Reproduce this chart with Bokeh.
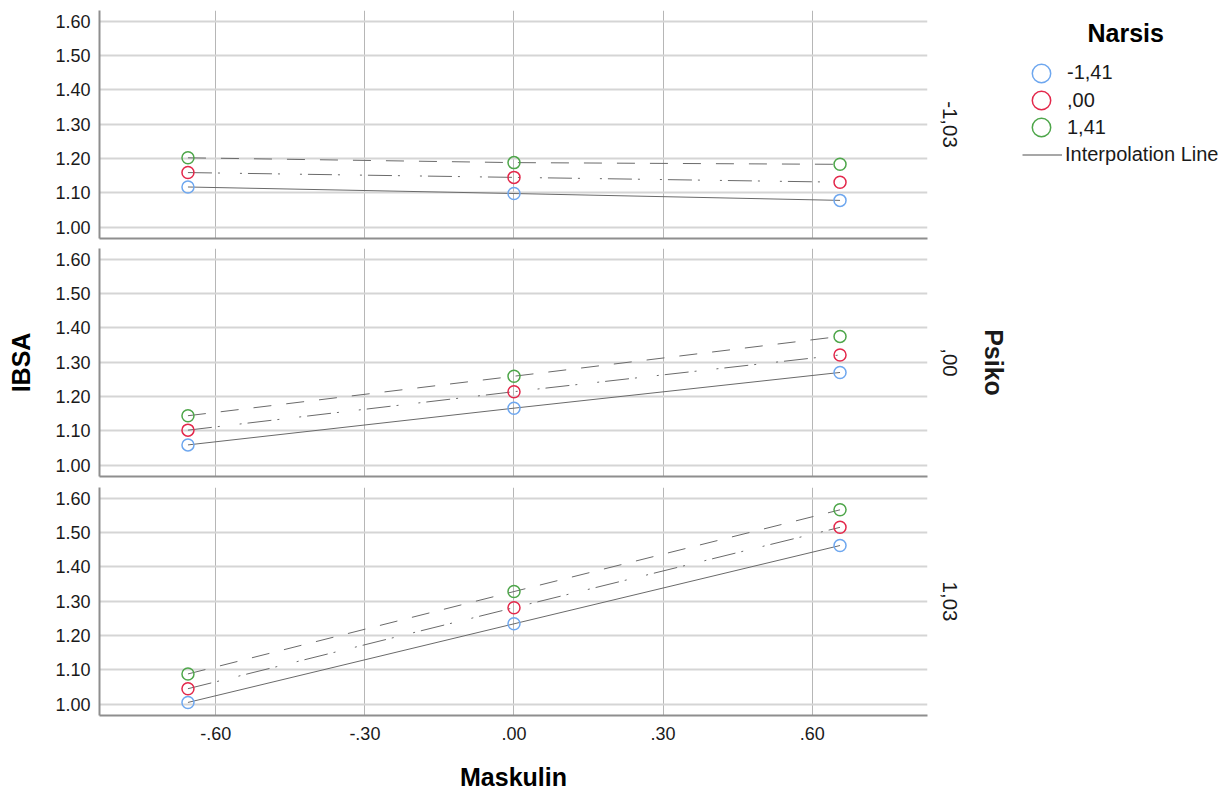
from bokeh.plotting import figure
from bokeh.models import (Range1d, LinearAxis, FixedTicker, PrintfTickFormatter,
                          Legend, LegendItem)
from bokeh.layouts import column, row
from bokeh.embed import file_html
from bokeh.resources import INLINE

# ---------------- data ----------------
maskulin = [-0.656, 0.0, 0.656]
narsis_labels = ["-1,41", ",00", "1,41"]
psiko_labels = ["-1,03", ",00", "1,03"]

x_ticks = [-0.6, -0.3, 0.0, 0.3, 0.6]
x_tick_labels = ["-.60", "-.30", ".00", ".30", ".60"]
y_ticks = [1.0, 1.1, 1.2, 1.3, 1.4, 1.5, 1.6]

# Psiko = -1,03
top_blue = [1.117, 1.098, 1.078]
top_red = [1.159, 1.145, 1.131]
top_green = [1.202, 1.188, 1.183]
# Psiko = ,00
mid_blue = [1.059, 1.166, 1.270]
mid_red = [1.102, 1.214, 1.321]
mid_green = [1.144, 1.259, 1.375]
# Psiko = 1,03
bot_blue = [1.005, 1.234, 1.462]
bot_red = [1.045, 1.281, 1.515]
bot_green = [1.088, 1.328, 1.566]

# ---------------- styles ----------------
FONT = "Liberation Sans"
COLORS = ["#6ea7ef", "#e3284b", "#4ea64a"]
DASHES = ["solid", "24 6 2 20 2 6", "18 15"]
LINE_COLOR = "#6a6a6a"
AXIS_COLOR = "#8e8e8e"
TEXT_COLOR = "#1a1a1a"

FRAME_W, FRAME_H = 828, 228
X_RANGE = (-0.834, 0.832)
Y_RANGE = (0.967, 1.631)


def make_panel(series, psiko_label, top_b, bottom_b, bottom_labels=False, ylabel=None,
               title=None):
    p = figure(frame_width=FRAME_W, frame_height=FRAME_H,
               x_range=Range1d(*X_RANGE), y_range=Range1d(*Y_RANGE),
               output_backend="svg", toolbar_location=None,
               min_border_left=99, min_border_right=87,
               min_border_top=top_b, min_border_bottom=bottom_b)
    p.outline_line_color = None
    p.background_fill_color = "white"
    p.border_fill_color = "white"

    # grids
    p.ygrid.ticker = FixedTicker(ticks=y_ticks)
    p.xgrid.ticker = FixedTicker(ticks=x_ticks)
    p.ygrid.grid_line_color = "#d5d5d5"
    p.ygrid.grid_line_width = 2
    p.xgrid.grid_line_color = "#b6b6b6"
    p.xgrid.grid_line_width = 1

    # left axis
    ya = p.yaxis[0]
    ya.ticker = FixedTicker(ticks=y_ticks)
    ya.formatter = PrintfTickFormatter(format="%.2f")
    ya.major_label_text_font = FONT
    ya.major_label_text_font_size = "18px"
    ya.major_label_text_color = TEXT_COLOR
    ya.major_label_standoff = 9
    ya.major_tick_out = 0
    ya.major_tick_in = 0
    ya.minor_tick_line_color = None
    ya.axis_line_color = AXIS_COLOR
    ya.axis_line_width = 2
    if ylabel:
        ya.axis_label = ylabel
        ya.axis_label_text_font = FONT
        ya.axis_label_text_font_size = "25px"
        ya.axis_label_text_font_style = "bold"
        ya.axis_label_text_color = "#000000"
        ya.axis_label_standoff = 17

    # bottom axis
    xa = p.xaxis[0]
    xa.axis_line_color = AXIS_COLOR
    xa.axis_line_width = 2
    xa.major_tick_out = 0
    xa.major_tick_in = 0
    xa.minor_tick_line_color = None
    if bottom_labels:
        xa.ticker = FixedTicker(ticks=x_ticks)
        xa.major_label_overrides = {t: l for t, l in zip(x_ticks, x_tick_labels)}
        xa.major_label_text_font = FONT
        xa.major_label_text_font_size = "18px"
        xa.major_label_text_color = TEXT_COLOR
        xa.major_label_standoff = 11
        xa.axis_label = "Maskulin"
        xa.axis_label_text_font = FONT
        xa.axis_label_text_font_size = "25px"
        xa.axis_label_text_font_style = "bold"
        xa.axis_label_text_color = "#000000"
        xa.axis_label_standoff = 20
    else:
        xa.ticker = FixedTicker(ticks=[])
        xa.major_label_standoff = 0

    # right-side panel label(s)
    def right_label(text, size, style, standoff):
        ax = LinearAxis(ticker=FixedTicker(ticks=[]), axis_label=text,
                        axis_line_color=None, major_tick_out=0, major_tick_in=0,
                        minor_tick_line_color=None, major_label_standoff=0,
                        axis_label_standoff=standoff,
                        axis_label_text_font=FONT, axis_label_text_font_size=size,
                        axis_label_text_font_style=style, axis_label_text_color=TEXT_COLOR)
        p.add_layout(ax, "right")

    right_label(psiko_label, "20.5px", "normal", 15)
    if title:
        right_label(title, "25px", "bold", 20)

    line_rs, dot_rs = [], []
    for ys, dash in zip(series, DASHES):
        lr = p.line(maskulin, ys, line_color=LINE_COLOR, line_width=1, line_dash=dash)
        line_rs.append(lr)
    for ys, col in zip(series, COLORS):
        sr = p.scatter(maskulin, ys, marker="circle", size=12, fill_color=None,
                       line_color=col, line_width=1.5)
        dot_rs.append(sr)
    return p, line_rs, dot_rs


p1, l1, d1 = make_panel([top_blue, top_red, top_green], psiko_labels[0], 10, 5)
p2, l2, d2 = make_panel([mid_blue, mid_red, mid_green], psiko_labels[1], 5, 5,
                        ylabel="IBSA", title="Psiko")
p3, l3, d3 = make_panel([bot_blue, bot_red, bot_green], psiko_labels[2], 6, 79,
                        bottom_labels=True)

# ---------------- legend area (own small figure, key renderers hidden) ----------------
LG_H = 170
lg = figure(frame_width=216, frame_height=LG_H,
            x_range=Range1d(*X_RANGE), y_range=Range1d(*Y_RANGE),
            output_backend="svg", toolbar_location=None,
            x_axis_location=None, y_axis_location=None,
            min_border_left=0, min_border_right=0, min_border_top=10, min_border_bottom=0)
lg.outline_line_color = None
lg.grid.visible = False
lg.background_fill_color = "white"
lg.border_fill_color = "white"

key_dots = []
for ys, col in zip([top_blue, top_red, top_green], COLORS):
    r = lg.scatter(maskulin, ys, marker="circle", size=12, fill_color=None,
                   line_color=col, line_width=1.5)
    r.visible = False
    key_dots.append(r)
key_line = lg.line(maskulin, top_blue, line_color="#8a8a8a", line_width=1.3)
key_line.visible = False

common = dict(spacing=0, padding=0, margin=0, label_standoff=3,
              label_text_font=FONT, label_text_font_size="20px",
              label_text_color=TEXT_COLOR, label_height=27,
              border_line_color=None, background_fill_alpha=0)

# one key entry per legend so that the circles can be drawn larger than the row pitch
key_tops = [20, 75, 102]          # top edge (px from figure top) of each circle row box
for i, (lab, r) in enumerate(zip(narsis_labels, key_dots)):
    kw = dict(common)
    if i == 0:
        kw.update(title="\u00a0" * 10 + "Narsis", title_text_font=FONT,
                  title_text_font_size="25px", title_text_font_style="bold",
                  title_text_color="#000000", title_standoff=0)
        h = 27.5 + 50
    else:
        h = 50
    vy = (LG_H + 10) - key_tops[i] - h
    lgd = Legend(items=[LegendItem(label=lab, renderers=[r])], location=(4, vy),
                 glyph_width=46, glyph_height=50, **kw)
    lg.add_layout(lgd)

line_key = Legend(items=[LegendItem(label="Interpolation Line", renderers=[key_line])],
                  location=(8, 12), glyph_width=40, glyph_height=27, **common)
lg.add_layout(line_key)

layout = row(column(p1, p2, p3, spacing=0), lg, spacing=0)
open("out.html", "w").write(file_html(layout, INLINE))
